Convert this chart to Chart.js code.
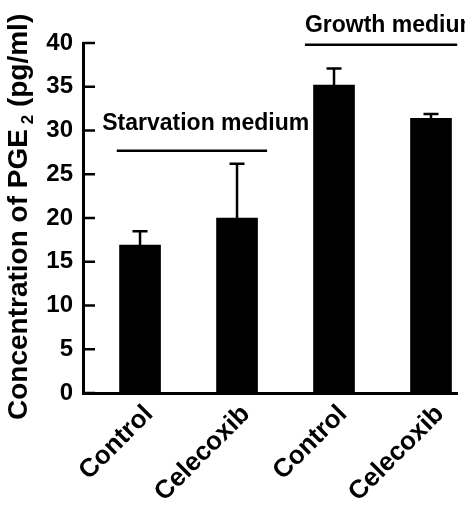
<!DOCTYPE html>
<html>
<head>
<meta charset="utf-8">
<script src="https://cdn.jsdelivr.net/npm/chart.js@4/dist/chart.umd.min.js"></script>
<style>
  html, body { margin: 0; padding: 0; background: #fff; }
  #wrap { width: 465px; height: 519px; position: relative; }
</style>
</head>
<body>
<div id="wrap"><canvas id="chart"></canvas></div>
<script>
// ===============================
// Data
// ===============================
const categories = ["Control", "Celecoxib", "Control", "Celecoxib"];
const pgeValues = [16.9, 20.0, 35.2, 31.4];
const pgeErrors = [1.6, 6.2, 1.9, 0.5];
const yTicks = [0, 5, 10, 15, 20, 25, 30, 35, 40];

const groupNames = ["Starvation medium", "Growth medium"];
const groupFrom = [-0.24, 1.70];
const groupTo = [1.31, 3.27];
const groupLevel = [27.7, 39.8];
const groupTextLevel = [30.1, 41.3];
const groupTextFrom = [-0.39, 1.70];

const FONT = "'Liberation Sans', Arial, Helvetica, sans-serif";

// ===============================
// Error bars, inward ticks, group labels, axis title
// ===============================
const extras = {
    id: "extras",
    afterDatasetsDraw(chart) {
        const c = chart.ctx;
        const y = chart.scales.y;

        // error bars (upper only)
        c.save();
        c.strokeStyle = "#000";
        c.lineWidth = 2.5;
        const meta = chart.getDatasetMeta(0);
        meta.data.forEach((bar, i) => {
            const yTop = y.getPixelForValue(pgeValues[i] + pgeErrors[i]);
            const yBar = y.getPixelForValue(pgeValues[i]);
            c.beginPath();
            c.moveTo(bar.x, yBar);
            c.lineTo(bar.x, yTop);
            c.moveTo(bar.x - 7.5, yTop);
            c.lineTo(bar.x + 7.5, yTop);
            c.stroke();
        });
        c.restore();
    },
    afterDraw(chart) {
        const c = chart.ctx;
        const x = chart.scales.x;
        const y = chart.scales.y;

        // inward y ticks
        c.save();
        c.strokeStyle = "#000";
        c.lineWidth = 2.5;
        yTicks.forEach(v => {
            const py = y.getPixelForValue(v);
            c.beginPath();
            c.moveTo(x.left, py);
            c.lineTo(x.left + 12, py);
            c.stroke();
        });

        // group lines + labels
        c.fillStyle = "#000";
        c.font = "bold 23px " + FONT;
        c.textAlign = "left";
        c.textBaseline = "alphabetic";
        groupNames.forEach((name, i) => {
            const py = y.getPixelForValue(groupLevel[i]);
            c.beginPath();
            c.moveTo(x.getPixelForValue(groupFrom[i]), py);
            c.lineTo(x.getPixelForValue(groupTo[i]), py);
            c.stroke();
            c.fillText(name, x.getPixelForValue(groupTextFrom[i]), y.getPixelForValue(groupTextLevel[i]));
        });

        // y axis title with subscript
        c.translate(27, 420);
        c.rotate(-Math.PI / 2);
        c.font = "bold 28px " + FONT;
        const main = "Concentration of PGE ";
        c.fillText(main, 0, 0);
        let w = c.measureText(main).width;
        c.font = "bold 17px " + FONT;
        c.fillText("2", w - 3, 6);
        w += c.measureText("2").width - 3;
        c.font = "bold 28px " + FONT;
        c.fillText(" (pg/ml)", w, 0);
        c.restore();
    }
};

// ===============================
// Chart
// ===============================
const ctx = document.getElementById("chart").getContext("2d");

const chart = new Chart(ctx, {
    type: "bar",
    data: {
        datasets: [{
            data: pgeValues.map((v, i) => ({ x: i, y: v })),
            backgroundColor: "#000",
            borderWidth: 0,
            barThickness: 41
        }]
    },
    options: {
        responsive: true,
        maintainAspectRatio: false,
        animation: false,
        layout: { padding: { left: 0, top: 43, right: 8, bottom: 0 } },
        plugins: { legend: { display: false }, tooltip: { enabled: false } },
        scales: {
            x: {
                type: "linear",
                min: -0.588,
                max: 3.268,
                offset: false,
                afterBuildTicks: s => { s.ticks = categories.map((_, i) => ({ value: i })); },
                afterFit: s => { s.height = 126; },
                grid: { display: false, drawTicks: false },
                border: { display: true, color: "#000", width: 3 },
                ticks: {
                    autoSkip: false,
                    minRotation: 45,
                    maxRotation: 45,
                    padding: 6,
                    labelOffset: 9,
                    color: "#000",
                    font: { family: FONT, size: 26, weight: "bold" },
                    callback: v => categories[v]
                }
            },
            y: {
                min: 0,
                max: 40,
                afterBuildTicks: s => { s.ticks = yTicks.map(v => ({ value: v })); },
                afterFit: s => { s.width = 83; },
                grid: { display: false, drawTicks: false },
                border: { display: true, color: "#000", width: 3 },
                ticks: {
                    padding: 10,
                    color: "#000",
                    font: { family: FONT, size: 24, weight: "bold" }
                }
            }
        }
    },
    plugins: [extras]
});
</script>
</body>
</html>
